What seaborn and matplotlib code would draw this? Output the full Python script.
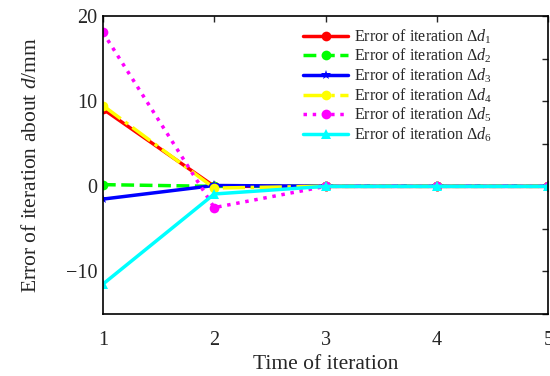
import matplotlib.pyplot as plt
import pandas as pd
import numpy as np
import seaborn as sns

sns.set_style("white")
plt.rcParams['font.family'] = ['Liberation Serif', 'DejaVu Serif']
plt.rcParams['mathtext.fontset'] = 'custom'
plt.rcParams['mathtext.rm'] = 'Liberation Serif'
plt.rcParams['mathtext.it'] = 'Liberation Serif:italic'

# iteration number and errors
iterations = [1, 2, 3, 4, 5]
err_d1 = [9.1, 0.0, 0.0, 0.0, 0.0]
err_d2 = [0.2, 0.0, 0.0, 0.0, 0.0]
err_d3 = [-1.5, 0.1, 0.0, 0.0, 0.0]
err_d4 = [9.5, -0.2, 0.0, 0.0, 0.0]
err_d5 = [18.1, -2.5, 0.0, 0.0, 0.0]
err_d6 = [-11.5, -0.9, 0.0, 0.0, 0.0]
labels = [r'Error of iteration $\Delta d_{%d}$' % i for i in range(1, 7)]

series = [err_d1, err_d2, err_d3, err_d4, err_d5, err_d6]
colors = ['red', '#00ff00', 'blue', '#ffff00', 'magenta', 'cyan']
styles = ['-', '--', '-', '-.', ':', '-']
markers = ['o', 'o', '*', 'o', 'o', '^']

fig, ax = plt.subplots(figsize=(5.5, 3.76), dpi=100)

for vals, lab, c, ls, m in zip(series, labels, colors, styles, markers):
    df = pd.DataFrame({'time': iterations, 'err': vals})
    sns.lineplot(data=df, x='time', y='err', ax=ax, color=c, linestyle=ls,
                 linewidth=2.5, marker=m, markersize=7, markeredgewidth=0,
                 label=lab)

ax.set_xlim(1, 5)
ax.set_ylim(-15, 20)
ax.set_xticks([1, 2, 3, 4, 5])
ax.set_yticks([-15, -10, -5, 0, 5, 10, 15, 20])
ax.set_yticklabels(['', '\u221210', '', '0', '', '10', '', '20'])
ax.tick_params(direction='in', top=True, right=True, length=4, width=1,
               labelsize=14.5)
ax.tick_params(axis='x', pad=12)
ax.tick_params(axis='y', pad=4)
for s in ax.spines.values():
    s.set_linewidth(1.2)
    s.set_color('black')

ax.set_xlabel('Time of iteration', fontsize=15.5, labelpad=4)
ax.set_ylabel(r'Error of iteration about $d$/mm', fontsize=15.5, labelpad=18)

leg = ax.legend(loc='upper right', frameon=False, fontsize=11.5,
                handlelength=2.8, labelspacing=0.08, borderaxespad=0.3,
                handletextpad=0.4, bbox_to_anchor=(0.9, 1.0))

plt.subplots_adjust(left=0.187, right=0.997, top=0.957, bottom=0.165)
plt.savefig('out.png', dpi=100)
